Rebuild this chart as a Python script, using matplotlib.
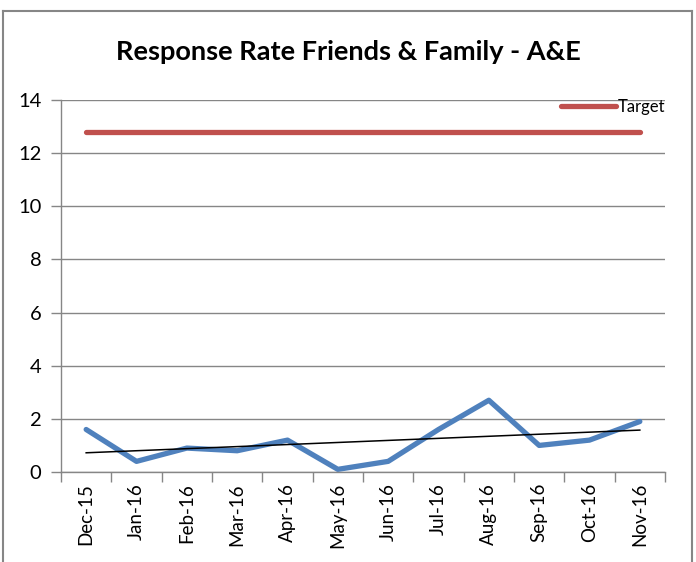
import numpy as np
import matplotlib.pyplot as plt
from matplotlib.lines import Line2D

plt.rcParams['font.family'] = ['Lato', 'DejaVu Sans']

months = ["Dec-15", "Jan-16", "Feb-16", "Mar-16", "Apr-16", "May-16",
          "Jun-16", "Jul-16", "Aug-16", "Sep-16", "Oct-16", "Nov-16"]
response_rate = [1.6, 0.4, 0.9, 0.8, 1.2, 0.1, 0.4, 1.6, 2.7, 1.0, 1.2, 1.9]
target = [12.8] * 12

x = np.arange(len(months))

fig = plt.figure(figsize=(6.96, 5.62), dpi=100)
ax = fig.add_axes([61/696, 1-472/562, 604/696, 372/562])

ax.plot(x, target, color="#C0504D", lw=3.8, solid_capstyle="round", label="Target")
ax.plot(x, response_rate, color="#4F81BD", lw=3.8, solid_capstyle="round")

# linear trendline, like Excel's
coef = np.polyfit(x, response_rate, 1)
ax.plot(x, np.polyval(coef, x), color="black", lw=1.1)

ax.set_xlim(-0.5, len(months) - 0.5)
ax.set_ylim(0, 14)
ax.set_yticks(range(0, 15, 2))
ax.set_xticks(x)
ax.set_xticklabels(months, rotation=90, fontsize=13.5)
ax.set_xticks(np.arange(-0.5, len(months)), minor=True)
ax.tick_params(axis="x", which="major", length=0, pad=8)
ax.tick_params(axis="x", which="minor", length=7, color="#868686", width=1)
ax.tick_params(axis="y", length=7, color="#868686", width=1, labelsize=14.5, pad=7)
ax.grid(axis="y", color="#868686", lw=1)
ax.set_axisbelow(True)
for s in ["top", "right"]:
    ax.spines[s].set_visible(False)
for s in ["left", "bottom"]:
    ax.spines[s].set_color("#868686")
    ax.spines[s].set_linewidth(1)

ax.legend(handles=[Line2D([], [], color="#C0504D", lw=3.8, solid_capstyle="round")],
          labels=["Target"], loc="upper right", bbox_to_anchor=(1.012, 1.02),
          frameon=False, fontsize=12, handlelength=3.3, handletextpad=0.1,
          borderaxespad=0)

fig.text(348/696, 1-52/562, "Response Rate Friends & Family - A&E",
         ha="center", va="center", fontsize=19.5, fontweight="bold")

# chart border
fig.add_artist(Line2D([3/696, 3/696], [0, 1-11/562], color="#868686", lw=1.5,
                      transform=fig.transFigure))
fig.add_artist(Line2D([692/696, 692/696], [0, 1-11/562], color="#868686", lw=1.5,
                      transform=fig.transFigure))
fig.add_artist(Line2D([3/696, 692/696], [1-11/562, 1-11/562], color="#868686", lw=1.5,
                      transform=fig.transFigure))

fig.savefig("out.png", dpi=100)
